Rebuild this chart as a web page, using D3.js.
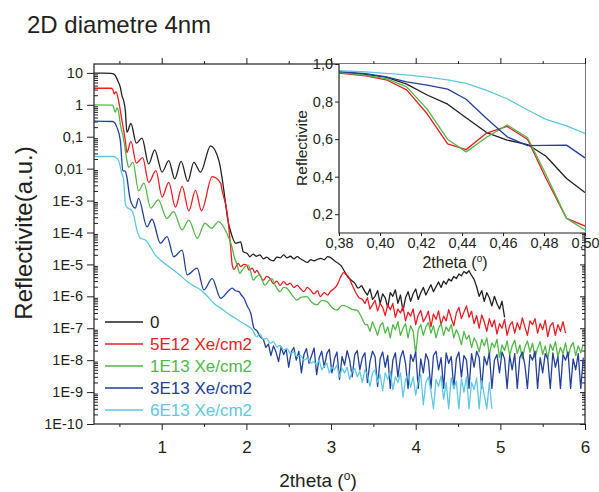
<!DOCTYPE html>
<html><head><meta charset="utf-8">
<script src="https://cdn.jsdelivr.net/npm/d3@7"></script>
<style>
body{margin:0;background:#fff}
text{font-family:"Liberation Sans",Arial,sans-serif;fill:#231f20}
.ax path,.ax line{stroke:#231f20;stroke-width:1}
</style>
</head><body><svg id="c" width="599" height="492"></svg>
<script>
// ---------- data ----------
const seriesNames = ["0", "5E12 Xe/cm2", "1E13 Xe/cm2", "3E13 Xe/cm2", "6E13 Xe/cm2"];
const seriesColors = ["#231f20", "#ed1c24", "#52b848", "#22409a", "#5ec8e2"];
const xTickValues = [1, 2, 3, 4, 5, 6];
const xMinorTicks = [0.5, 1.5, 2.5, 3.5, 4.5, 5.5];
const yTickValues = [10, 1, 0.1, 0.01, 1e-3, 1e-4, 1e-5, 1e-6, 1e-7, 1e-8, 1e-9, 1e-10];
const yTickLabels = ["10", "1", "0,1", "0,01", "1E-3", "1E-4", "1E-5", "1E-6", "1E-7", "1E-8", "1E-9", "1E-10"];
const tailStep = 0.03;

// series "0"
const curve0 = [[0.20,9.8],[0.30,9.8],[0.40,9.7],[0.43,9.3],[0.451,8.3],[0.479,5.8],[0.511,3.5],[0.530,1.95],[0.550,1.35],[0.570,0.66],[0.589,0.138],[0.636,0.26],[0.700,0.063],[0.767,0.091],[0.846,0.014],[0.917,0.039],[1.004,0.0078],[1.083,0.0178],[1.154,0.0048],[1.229,0.017],[1.308,0.004],[1.379,0.0158],[1.459,0.0078],[1.577,0.052],[1.675,0.0178],[1.755,7.9e-4],[1.774,3.2e-4],[1.833,7.4e-5],[1.873,4.6e-5],[1.932,5.1e-5],[1.963,2.5e-5],[2.011,2.2e-5],[2.04,1.74e-5],[2.08,2.1e-5],[2.12,1.8e-5],[2.16,2.0e-5],[2.20,1.5e-5],[2.24,1.7e-5],[2.28,1.4e-5],[2.32,1.3e-5],[2.36,1.7e-5],[2.40,1.6e-5],[2.44,2.0e-5],[2.48,1.6e-5],[2.52,1.8e-5],[2.56,1.5e-5],[2.60,1.75e-5],[2.64,1.5e-5],[2.68,1.3e-5],[2.72,1.15e-5],[2.76,1.4e-5],[2.80,1.3e-5],[2.84,1.45e-5],[2.88,1.55e-5],[2.92,1.4e-5],[2.96,1.75e-5],[3.00,1.6e-5],[3.04,1.3e-5],[3.08,1.1e-5],[3.12,9e-6],[3.16,6e-6],[3.20,4e-6],[3.24,3.2e-6],[3.28,2.6e-6],[3.32,1.8e-6],[3.36,2.2e-6]];
const tail0 = {start: 3.40, values: [1.4e-6,1.1e-6,1.7e-6,8e-7,1.0e-6,1.5e-6,6e-7,1.2e-6,9e-7,4.5e-7,1.3e-6,1.0e-6,1.6e-6,6e-7,1.1e-6,3.5e-7,9e-7,1.4e-6,7e-7,1.2e-6,1.7e-6,8e-7,1.3e-6,1.9e-6,1.1e-6,1.6e-6,2.3e-6,1.4e-6,2.0e-6,2.8e-6,1.9e-6,3.0e-6,2.4e-6,3.5e-6,3.0e-6,4.2e-6,3.6e-6,5.0e-6,4.4e-6,6.0e-6,5.2e-6,6.3e-6,4.5e-6,3.4e-6,2.0e-6,1.0e-6,1.5e-6,7e-7,1.3e-6,9e-7,5e-7,1.0e-6,6e-7,4e-7,7e-7,2.2e-7]};

// series "5E12"
const curve1 = [[0.20,3.3],[0.40,3.3],[0.42,3.1],[0.44,2.2],[0.46,2.6],[0.49,1.35],[0.53,0.32],[0.57,0.076],[0.589,0.032],[0.636,0.072],[0.700,0.015],[0.775,0.022],[0.846,0.0037],[0.932,0.0087],[1.004,0.0013],[1.083,0.0037],[1.162,6.2e-4],[1.241,0.0028],[1.320,4.8e-4],[1.399,0.0021],[1.470,4.8e-4],[1.596,0.0056],[1.696,0.0035],[1.714,0.002],[1.774,4e-4],[1.814,3.5e-5],[1.833,9.5e-6],[1.853,7e-6],[1.904,1.07e-5],[1.932,8.5e-6],[1.97,1.0e-5],[2.004,9.5e-6],[2.03,6.6e-6],[2.07,7.6e-6],[2.10,5.5e-6],[2.122,6.5e-6],[2.16,4.5e-6],[2.20,3.2e-6],[2.24,4.2e-6],[2.28,3.6e-6],[2.32,2.5e-6],[2.36,3.0e-6],[2.398,2.2e-6],[2.44,2.9e-6],[2.48,2.3e-6],[2.517,2.6e-6],[2.56,1.9e-6],[2.60,2.2e-6],[2.635,1.8e-6],[2.68,1.4e-6],[2.72,1.9e-6],[2.754,1.6e-6],[2.80,1.2e-6],[2.84,1.5e-6],[2.872,9.8e-7],[2.92,1.3e-6],[2.96,1.1e-6],[2.991,1.4e-6],[3.03,1.7e-6],[3.07,2.2e-6],[3.11,3.8e-6],[3.148,5.5e-6],[3.18,4.8e-6],[3.207,4.1e-6],[3.24,2.6e-6],[3.267,1.8e-6],[3.30,1.2e-6],[3.33,9e-7]];
const tail1 = {start: 3.37, values: [8e-7,6e-7,9e-7,4e-7,5.5e-7,7.5e-7,3.5e-7,6e-7,4.5e-7,2.5e-7,5.5e-7,3.8e-7,6e-7,2.2e-7,4e-7,3e-7,4.8e-7,1.7e-7,3.2e-7,2.4e-7,4e-7,1.3e-7,2.6e-7,3.6e-7,1.6e-7,2.2e-7,3.4e-7,1.1e-7,2.8e-7,1.9e-7,3.5e-7,1.3e-7,2.4e-7,1.7e-7,3.8e-7,2.1e-7,1.2e-7,3.0e-7,4.5e-7,2.0e-7,3.2e-7,5e-7,2.2e-7,3.4e-7,1.4e-7,2.5e-7,1.0e-7,2.6e-7,1.6e-7,8e-8,2.0e-7,1.1e-7,1.8e-7,6.5e-8,1.4e-7,1.0e-7,1.9e-7,6e-8,1.2e-7,1.6e-7,7e-8,1.5e-7,9e-8,2.1e-7,1.1e-7,6e-8,1.7e-7,1.3e-7,2.0e-7,7e-8,1.4e-7,9e-8,1.8e-7,5.5e-8,1.2e-7,1.5e-7,6e-8,1.3e-7,8e-8,1.6e-7,7e-8]};

// series "1E13"
const curve2 = [[0.20,1.0],[0.42,0.98],[0.451,0.59],[0.47,0.8],[0.49,0.6],[0.511,0.25],[0.55,0.085],[0.589,0.018],[0.61,0.011],[0.66,0.016],[0.727,0.002],[0.79,0.0035],[0.87,5.8e-4],[0.96,0.00105],[1.06,2.75e-4],[1.14,4.5e-4],[1.24,1.2e-4],[1.32,2.45e-4],[1.42,6.6e-5],[1.51,1.95e-4],[1.59,1.35e-4],[1.67,2.2e-4],[1.77,9.3e-5],[1.83,3.5e-5],[1.86,1.6e-5],[1.885,1.07e-5],[1.924,5.2e-6],[1.95,6.5e-6],[1.983,8.5e-6],[2.023,9.5e-6],[2.05,6e-6],[2.082,3.2e-6],[2.12,4.2e-6],[2.161,4.7e-6],[2.19,3.0e-6],[2.22,2.2e-6],[2.26,3.0e-6],[2.30,3.6e-6],[2.35,2.0e-6],[2.398,1.4e-6],[2.44,1.9e-6],[2.477,1.8e-6],[2.53,1.2e-6],[2.596,7.6e-7],[2.65,9.5e-7],[2.714,9.8e-7],[2.77,6.5e-7],[2.833,5.4e-7],[2.89,7.5e-7],[2.951,6.8e-7],[3.01,4.5e-7],[3.07,3.7e-7],[3.13,5.2e-7],[3.188,4.8e-7],[3.25,3.9e-7],[3.307,3.7e-7],[3.36,2.2e-7],[3.40,1.3e-7]];
const tail2 = {start: 3.43, values: [1.3e-7,8e-8,1.6e-7,1.0e-7,6e-8,1.2e-7,1.5e-7,7e-8,1.1e-7,5e-8,1.3e-7,9e-8,1.6e-7,6e-8,1.0e-7,1.4e-7,5e-8,1.2e-7,8e-8,1.6e-8,9e-8,1.3e-7,6e-8,1.1e-7,1.5e-7,7e-8,1.2e-7,5e-8,1.0e-7,1.4e-7,6e-8,1.1e-7,8e-8,1.3e-7,5e-8,9e-8,6e-8,3e-8,8e-8,4.5e-8,6e-8,2.5e-8,5e-8,3.5e-8,1.8e-8,4.5e-8,2.8e-8,5e-8,1.5e-8,3.5e-8,2.5e-8,4.5e-8,1.2e-8,3e-8,2e-8,4e-8,1.4e-8,2.8e-8,4.2e-8,1.6e-8,3e-8,1.1e-8,2.6e-8,4e-8,1.8e-8,3.4e-8,1.2e-8,2.4e-8,3.8e-8,1.5e-8,2.8e-8,1.1e-8,3.2e-8,2e-8,3.8e-8,1.3e-8,2.5e-8,1.6e-8,3.5e-8,1.2e-8,2.6e-8,3.6e-8,1.4e-8,2.8e-8,1.7e-8,3.2e-8]};

// series "3E13"
const curve3 = [[0.20,0.31],[0.42,0.30],[0.47,0.2],[0.511,0.076],[0.541,0.0087],[0.57,0.0083],[0.585,0.006],[0.629,0.00105],[0.688,5.8e-4],[0.727,0.00117],[0.826,1.5e-4],[0.885,2.6e-4],[0.985,4.6e-5],[1.063,7.4e-5],[1.142,1.74e-5],[1.241,2.8e-5],[1.30,4.7e-6],[1.418,7.6e-6],[1.498,1.6e-6],[1.596,3.6e-6],[1.696,8.7e-7],[1.79,1.5e-6],[1.833,1.8e-6],[1.87,1.5e-6],[1.912,1.4e-6],[1.94,1.1e-6],[1.972,8.7e-7],[2.01,5e-7],[2.051,3e-7],[2.09,1e-7],[2.13,8e-8],[2.161,5.4e-8]];
const tail3 = {start: 2.20, values: [4.5e-8,2.5e-8,3.2e-8,1.4e-8,2.8e-8,1.8e-8,9e-9,2.6e-8,1.5e-8,2.2e-8,6e-9,1.8e-8,2.5e-8,1.0e-8,1.9e-8,4e-9,1.5e-8,2.3e-8,8e-9,1.4e-8,2.4e-8,3.5e-9,1.2e-8,1.9e-8,6e-9,1.6e-8,2.2e-8,4e-9,1.1e-8,1.8e-8,2.5e-9,1.3e-8,7e-9,2.0e-8,1.0e-8,3e-9,1.5e-8,2.0e-8,5e-9,1.2e-8,1.7e-8,2e-9,9e-9,1.9e-8,1.3e-8,1.5e-9,1.1e-8,1.8e-8,6e-9,1.4e-8,1.3e-9,1.0e-8,1.7e-8,3e-9,1.2e-8,2.0e-8,8e-9,1.3e-9,1.5e-8,9e-9,1.8e-8,1.3e-9,1.1e-8,4e-9,1.6e-8,1.0e-8,1.3e-9,1.4e-8,1.9e-8,5e-9,1.2e-8,1.3e-9,1.7e-8,8e-9,1.3e-8,1.3e-9,1.1e-8,1.8e-8,3e-9,1.4e-8,1.0e-8,1.3e-9,1.6e-8,6e-9,1.9e-8,1.2e-8,1.3e-9,1.3e-8,7e-9,1.7e-8,1.3e-9,1.0e-8,1.5e-8,4e-9,1.8e-8,1.1e-8,1.3e-9,1.4e-8,5e-9,1.6e-8,1.3e-9,1.2e-8,1.8e-8,7e-9,1.3e-9,1.5e-8,1.0e-8,1.9e-8,1.3e-9,1.2e-8,4e-9,1.6e-8,1.1e-8,1.3e-9,1.7e-8,6e-9,1.3e-8,1.3e-9,1.5e-8,1.0e-8,1.8e-8,1.3e-9,1.1e-8,5e-9,1.6e-8,1.3e-9,1.2e-8]};

// series "6E13"
const curve4 = [[0.20,0.024],[0.43,0.024],[0.451,0.023],[0.49,0.018],[0.53,0.0068],[0.55,0.0045],[0.57,8e-4],[0.589,6.2e-4],[0.648,4.8e-4],[0.668,3.5e-4],[0.707,1.2e-4],[0.748,6.6e-5],[0.807,5.8e-5],[0.866,3.5e-5],[0.925,1.95e-5],[0.985,1.38e-5],[1.06,9.5e-6],[1.142,6.6e-6],[1.22,4.5e-6],[1.30,2.9e-6],[1.38,2.1e-6],[1.459,1.6e-6],[1.54,1.0e-6],[1.616,6e-7],[1.70,4.2e-7],[1.774,3e-7],[1.85,2.2e-7],[1.932,1.6e-7],[2.00,1.25e-7],[2.07,9e-8],[2.122,5.4e-8],[2.16,6.5e-8],[2.20,4.5e-8],[2.24,4.8e-8],[2.28,3.4e-8],[2.32,3.8e-8],[2.36,2.6e-8],[2.40,2.9e-8],[2.437,2.1e-8],[2.48,2.3e-8],[2.52,1.6e-8],[2.56,1.8e-8],[2.596,1.3e-8],[2.64,1.4e-8],[2.68,1.0e-8],[2.72,1.15e-8],[2.76,8e-9]];
const tail4 = {start: 2.80, values: [9e-9,7e-9,1.0e-8,5e-9,6.5e-9,8e-9,4e-9,6e-9,5e-9,7e-9,3e-9,5.5e-9,4e-9,6e-9,2.5e-9,4.5e-9,5.5e-9,3e-9,4.5e-9,2e-9,5e-9,3.5e-9,1.5e-9,4e-9,5e-9,2e-9,3.5e-9,1.1e-9,4e-9,2.5e-9,4.5e-9,1.2e-9,3e-9,2e-9,4e-9,7e-10,2.5e-9,3.5e-9,1.4e-9,3e-9,8e-10,2.2e-9,3.5e-9,4e-10,2e-9,3e-9,1.1e-9,3e-10,2.5e-9,1.5e-9,3.2e-9,6e-10,2e-9,3e-10,2.8e-9,1.3e-9,2.2e-9,3e-10,2.6e-9,1.0e-9,3e-9,3e-10,2e-9,1.2e-9,2.8e-9,3e-10,2.3e-9,8e-10,3e-10,2e-9,3e-10]};

// inset data
const insetX = [0.38, 0.393, 0.403, 0.413, 0.423, 0.433, 0.442, 0.452, 0.462, 0.472, 0.481, 0.491, 0.50];
const inset0 = [0.955, 0.945, 0.93, 0.893, 0.835, 0.786, 0.714, 0.635, 0.595, 0.571, 0.509, 0.39, 0.316];
const inset1 = [0.952, 0.937, 0.916, 0.862, 0.735, 0.575, 0.544, 0.632, 0.668, 0.598, 0.39, 0.178, 0.137];
const inset2 = [0.955, 0.94, 0.922, 0.878, 0.76, 0.598, 0.532, 0.61, 0.675, 0.607, 0.41, 0.178, 0.116];
const inset3 = [0.96, 0.948, 0.932, 0.905, 0.887, 0.866, 0.812, 0.71, 0.612, 0.565, 0.567, 0.568, 0.50];
const inset4 = [0.964, 0.958, 0.95, 0.942, 0.93, 0.915, 0.897, 0.86, 0.815, 0.755, 0.705, 0.67, 0.63];
const insetXTicks = [0.38, 0.40, 0.42, 0.44, 0.46, 0.48, 0.50];
const insetXLabels = ["0,38", "0,40", "0,42", "0,44", "0,46", "0,48", "0,50"];
const insetYTicks = [0.2, 0.4, 0.6, 0.8, 1.0];
const insetYLabels = ["0,2", "0,4", "0,6", "0,8", "1,0"];

// ---------- build ----------
function tailPoints(curve, tail) {
  return [curve[curve.length - 1]].concat(tail.values.map((v, i) => [tail.start + i * tailStep, v]));
}
const smoothParts = [curve0, curve1, curve2, curve3, curve4];
const noisyParts = [tailPoints(curve0, tail0), tailPoints(curve1, tail1), tailPoints(curve2, tail2), tailPoints(curve3, tail3), tailPoints(curve4, tail4)];
const insetSeries = [inset0, inset1, inset2, inset3, inset4];

const svg = d3.select("#c");
const L = 94, R = 585, T = 64, B = 424;
const x = d3.scaleLinear().domain([0.2, 6]).range([L, R]);
const y = d3.scaleLog().domain([1e-10, 19]).range([B, T]);

// title
svg.append("text").attr("x", 27).attr("y", 33).style("font-size", "24px").text("2D diametre 4nm");

// clip
svg.append("clipPath").attr("id", "pc").append("rect").attr("x", L).attr("y", T).attr("width", R - L).attr("height", B - T);

// minor log ticks
const minorY = [];
for (let e = -10; e <= 1; e++) for (let m = 2; m <= 9; m++) { const v = m * Math.pow(10, e); if (v < 19) minorY.push(v); }

// axes
const gx = svg.append("g").attr("class", "ax").attr("transform", `translate(0,${B})`)
  .call(d3.axisBottom(x).tickValues(xTickValues).tickSize(6).tickPadding(11).tickFormat(d3.format("d")));
gx.selectAll("text").style("font-size", "17px");
svg.append("g").attr("class", "ax").attr("transform", `translate(0,${B})`)
  .call(d3.axisBottom(x).tickValues(xMinorTicks).tickSize(3).tickFormat(""));
svg.append("g").attr("class", "ax").attr("transform", `translate(0,${T})`)
  .call(d3.axisTop(x).tickValues(xTickValues).tickSize(6).tickFormat(""));
svg.append("g").attr("class", "ax").attr("transform", `translate(0,${T})`)
  .call(d3.axisTop(x).tickValues(xMinorTicks).tickSize(3).tickFormat(""));

const gy = svg.append("g").attr("class", "ax").attr("transform", `translate(${L},0)`)
  .call(d3.axisLeft(y).tickValues(yTickValues).tickSize(7).tickPadding(4).tickFormat((d, i) => yTickLabels[i]));
gy.selectAll("text").style("font-size", "14.5px");
svg.append("g").attr("class", "ax").attr("transform", `translate(${L},0)`)
  .call(d3.axisRight(y).tickValues(minorY).tickSize(4).tickFormat(""));
svg.append("g").attr("class", "ax").attr("transform", `translate(${R},0)`)
  .call(d3.axisLeft(y).tickValues(yTickValues).tickSize(5).tickFormat(""));
svg.append("g").attr("class", "ax").attr("transform", `translate(${R},0)`)
  .call(d3.axisLeft(y).tickValues(minorY).tickSize(3).tickFormat(""));
svg.selectAll(".ax .domain").remove();

// data lines
const smoothLine = d3.line().x(d => x(d[0])).y(d => y(d[1])).curve(d3.curveMonotoneX);
const noisyLine = d3.line().x(d => x(d[0])).y(d => y(d[1]));
const plot = svg.append("g").attr("clip-path", "url(#pc)");
smoothParts.forEach((s, i) => {
  plot.append("path").attr("d", smoothLine(s)).attr("fill", "none")
    .attr("stroke", seriesColors[i]).attr("stroke-width", 1.3).attr("stroke-linejoin", "round");
  plot.append("path").attr("d", noisyLine(noisyParts[i])).attr("fill", "none")
    .attr("stroke", seriesColors[i]).attr("stroke-width", 1.3).attr("stroke-linejoin", "round");
});

// frame
svg.append("rect").attr("x", L).attr("y", T).attr("width", R - L).attr("height", B - T)
  .attr("fill", "none").attr("stroke", "#231f20").attr("stroke-width", 1.2);

// legend
seriesNames.forEach((n, i) => {
  const ly = 322 + i * 22;
  svg.append("line").attr("x1", 105).attr("x2", 143).attr("y1", ly).attr("y2", ly)
    .attr("stroke", seriesColors[i]).attr("stroke-width", 1.5);
  svg.append("text").attr("x", 150).attr("y", ly + 6).style("font-size", "17px")
    .style("fill", seriesColors[i]).text(n);
});

// axis titles
const xt = svg.append("text").attr("x", 318).attr("y", 487).attr("text-anchor", "middle").style("font-size", "19px");
xt.append("tspan").text("2theta (");
xt.append("tspan").attr("dy", -7).style("font-size", "12px").text("o");
xt.append("tspan").attr("dy", 7).text(")");
svg.append("text").attr("transform", "translate(32,233) rotate(-90)").attr("text-anchor", "middle")
  .style("font-size", "24px").text("Reflectivite(a.u.)");

// ---------- inset ----------
const iL = 339, iR = 585, iT = 64, iB = 233;
const ix = d3.scaleLinear().domain([0.38, 0.50]).range([iL, iR]);
const iy = d3.scaleLinear().domain([0.1, 1.0]).range([iB, iT]);
svg.append("rect").attr("x", iL).attr("y", iT).attr("width", iR - iL).attr("height", iB - iT).attr("fill", "#fff");
svg.append("clipPath").attr("id", "ic").append("rect").attr("x", iL).attr("y", iT).attr("width", iR - iL).attr("height", iB - iT);
const iline = d3.line().x((d, i) => ix(insetX[i])).y(d => iy(d));
const ig = svg.append("g").attr("clip-path", "url(#ic)");
insetSeries.forEach((s, i) => {
  ig.append("path").attr("d", iline(s)).attr("fill", "none")
    .attr("stroke", seriesColors[i]).attr("stroke-width", 1.3).attr("stroke-linejoin", "round");
});
const igx = svg.append("g").attr("class", "ax").attr("transform", `translate(0,${iB})`)
  .call(d3.axisBottom(ix).tickValues(insetXTicks).tickSize(3).tickPadding(2).tickFormat((d, i) => insetXLabels[i]));
igx.selectAll("text").style("font-size", "14.5px");
const igy = svg.append("g").attr("class", "ax").attr("transform", `translate(${iL},0)`)
  .call(d3.axisLeft(iy).tickValues(insetYTicks).tickSize(4).tickPadding(2).tickFormat((d, i) => insetYLabels[i]));
igy.selectAll("text").style("font-size", "14.5px");
svg.selectAll(".ax .domain").remove();
svg.append("path").attr("d", `M${iL},${iT}V${iB}H${iR}`).attr("fill", "none").attr("stroke", "#231f20").attr("stroke-width", 1.2);
const ixt = svg.append("text").attr("x", 455).attr("y", 268).attr("text-anchor", "middle").style("font-size", "16px");
ixt.append("tspan").text("2theta (");
ixt.append("tspan").attr("dy", -6).style("font-size", "10px").text("o");
ixt.append("tspan").attr("dy", 6).text(")");
svg.append("text").attr("transform", "translate(307,148) rotate(-90)").attr("text-anchor", "middle")
  .style("font-size", "15.5px").text("Reflectivite");
</script></body></html>
